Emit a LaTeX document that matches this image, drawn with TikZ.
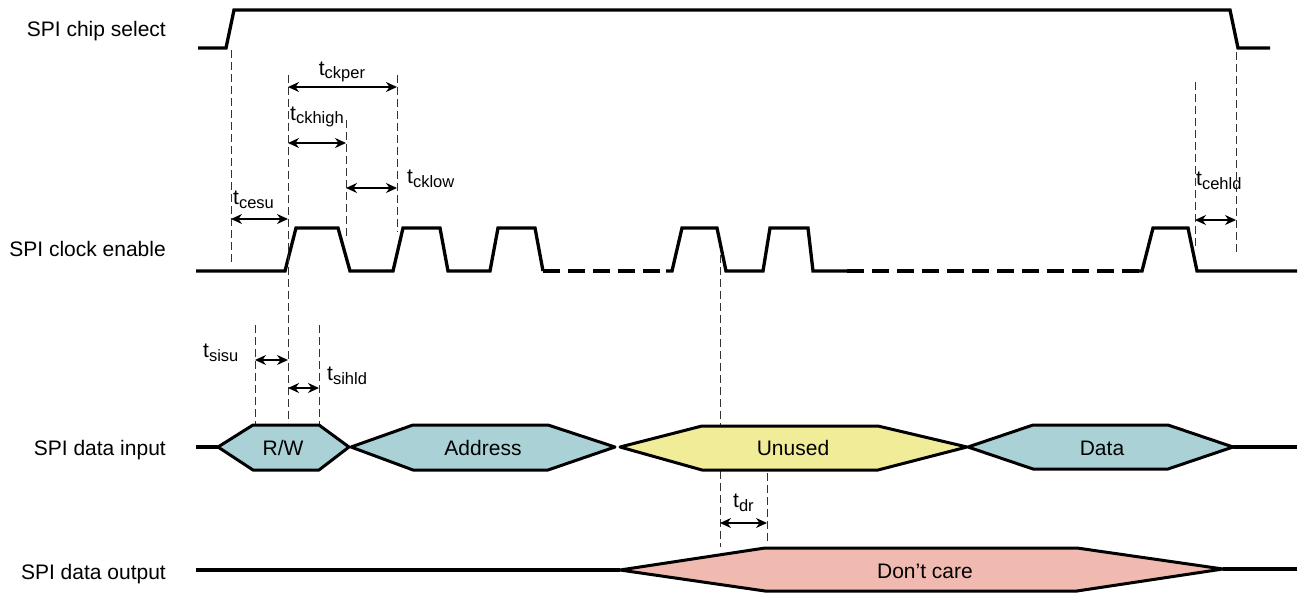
\documentclass[tikz,border=0pt]{standalone}
\usepackage{fontspec}
\setmainfont{Liberation Sans}
\usetikzlibrary{arrows.meta, positioning}
\definecolor{busblue}{RGB}{170,210,214}
\definecolor{busyellow}{RGB}{241,236,152}
\definecolor{buspink}{RGB}{240,186,176}
\newcommand{\tsub}[1]{t\raisebox{-4pt}{\fontsize{16.5}{19}\selectfont #1}}

\begin{document}
\begin{tikzpicture}[
    x=1pt, y=-1pt,
    >=Stealth,
    sig/.style={line width=3.3pt, line join=miter},
    sigdash/.style={sig, dash pattern=on 17pt off 8pt},
    guide/.style={line width=1pt, dash pattern=on 8pt off 4pt, black!80},
    dim/.style={<->, line width=1.4pt, >={Stealth[length=11pt, width=10pt]}},
    bus/.style={line width=3pt, line join=round, fill=#1},
    lbl/.style={anchor=base east, inner sep=0pt, font=\fontsize{21}{24}\selectfont},
    tlab/.style={anchor=base west, inner sep=0pt, font=\fontsize{21}{24}\selectfont},
    txt/.style={anchor=base, inner sep=0pt, font=\fontsize{21}{24}\selectfont}
]
\useasboundingbox (0,0) rectangle (1299,594);

\def\xce{231}
\def\xck{288}
\def\xhi{346}
\def\xper{397}
\def\xsu{255}
\def\xhd{319}
\def\xdr{720}
\def\xdv{767}
\def\xlst{1195}
\def\xcs{1236}

\node[lbl] (cs) at (166,37) {SPI chip select};
\node[lbl] (ck) at (166,256) {SPI clock enable};
\node[lbl] (si) at (166,455) {SPI data input};
\node[lbl] (so) at (166,579) {SPI data output};

\draw[sig] (198,48) -- (226,48) -- (234,10) -- (1230,10) -- (1238,48) -- (1270,48);

\draw[sig] (196,271) -- (285,271) -- (296,228) -- (338,228) -- (350,271)
  -- (393,271) -- (403,228) -- (440,228) -- (448,271)
  -- (490,271) -- (498,228) -- (535,228) -- (543,271);
\draw[sigdash] (543,271) -- (668,271);
\draw[sig] (666,271) -- (672,271) -- (682,228) -- (717,228) -- (726,271)
  -- (763,271) -- (770,228) -- (808,228) -- (813,271) -- (847,271);
\draw[sigdash] (847,271) -- (1142,271);
\draw[sig] (1138,271) -- (1142,271) -- (1153,228) -- (1188,228) -- (1197,271) -- (1297,271);

\draw[guide] (\xce,50) -- (\xce,262);
\draw[guide] (\xck,75) -- (\xck,423);
\draw[guide] (\xhi,120) -- (\xhi,240);
\draw[guide] (\xper,75) -- (\xper,232);
\draw[guide] (\xsu,325) -- (\xsu,425);
\draw[guide] (\xhd,325) -- (\xhd,425);
\draw[guide] (\xdr,255) -- (\xdr,547);
\draw[guide] (\xdv,473) -- (\xdv,542);
\draw[guide] (\xlst,82) -- (\xlst,250);
\draw[guide] (\xcs,52) -- (\xcs,252);

\draw[dim] (\xck,87) -- (\xper,87);
\node[txt] (tckper) at (342,75) {\tsub{ckper}};
\draw[dim] (\xck,143) -- (\xhi,143);
\node[tlab] (tckhigh) at (290,120) {\tsub{ckhigh}};
\draw[dim] (\xhi,188) -- (\xper,188);
\node[tlab] (tcklow) at (407,183) {\tsub{cklow}};
\draw[dim] (\xce,219) -- (\xck,219);
\node[tlab] (tcesu) at (233,204) {\tsub{cesu}};
\draw[dim] (\xsu,360) -- (\xck,360);
\node[tlab] (tsisu) at (203,357) {\tsub{sisu}};
\draw[dim] (\xck,388) -- (\xhd,388);
\node[tlab] (tsihld) at (327,380) {\tsub{sihld}};
\draw[dim] (\xdr,523) -- (\xdv,523);
\node[tlab] (tdr) at (733,507) {\tsub{dr}};
\draw[dim] (\xlst,220) -- (\xcs,220);
\node[tlab] (tcehld) at (1196,185) {\tsub{cehld}};

\draw[sig] (196,447) -- (218,447);
\draw[bus=busblue] (218,447) -- (253,425) -- (319,425) -- (349,447) -- (319,470) -- (253,470) -- cycle;
\node[txt] (rw) at (283,455) {R/W};
\draw[bus=busblue] (351,447) -- (413,425) -- (548,425) -- (615,447) -- (548,470) -- (413,470) -- cycle;
\node[txt] (addr) at (483,455) {Address};
\draw[bus=busyellow] (620,447) -- (702,426) -- (878,426) -- (967,447) -- (878,470) -- (702,470) -- cycle;
\node[txt] (unused) at (793,455) {Unused};
\draw[bus=busblue] (968,447) -- (1033,425) -- (1168,425) -- (1233,447) -- (1168,469) -- (1033,469) -- cycle;
\node[txt] (data) at (1102,455) {Data};
\draw[sig] (1233,447) -- (1297,447);

\draw[sig] (196,570) -- (620,570);
\draw[bus=buspink] (620,570) -- (765,548) -- (1077,548) -- (1223,569) -- (1077,591) -- (765,591) -- cycle;
\node[txt] (dc) at (925,578) {Don’t care};
\draw[sig] (1223,569) -- (1297,569);

\end{tikzpicture}
\end{document}
